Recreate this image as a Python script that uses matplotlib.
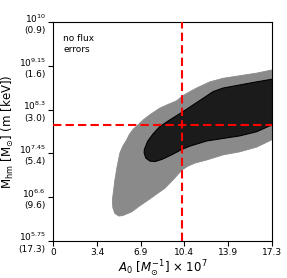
"""
Posterior contours for A_0 vs M_hm (no flux errors), with the true values
marked by red dashed lines.
"""

import numpy as np
import matplotlib
matplotlib.use("Agg")
import matplotlib.pyplot as plt

# ------------------------------------------------------------------
# axis ticks
X_TICKS = [0, 3.46, 6.92, 10.38, 13.84, 17.3]
X_TICKLABELS = ["0", "3.4", "6.9", "10.4", "13.9", "17.3"]
Y_TICKS = [5.75, 6.6, 7.45, 8.3, 9.15, 10.0]
Y_EXP = ["5.75", "6.6", "7.45", "8.3", "9.15", "10"]
Y_MASS = ["17.3", "9.6", "5.4", "3.0", "1.6", "0.9"]

# truth
A0_TRUE = 10.2
LOGM_TRUE = 8.0

# outer (95%) contour
OUTER_X = [18.33, 17.28, 16.09, 14.77, 13.44, 12.39, 11.34, 10.81, 10.25,
           9.75, 9.07, 8.43, 7.64, 7.11, 6.69, 6.32, 6.02, 5.80, 5.50,
           5.27, 5.03, 4.87, 4.67, 4.71, 4.87, 5.19, 5.50, 6.19, 6.85,
           7.51, 8.19, 8.83, 9.54, 10.20, 10.65, 11.20, 12.13, 13.44,
           14.77, 16.09, 17.28, 18.33]
OUTER_Y = [9.13, 9.07, 9.01, 8.96, 8.91, 8.84, 8.72, 8.65, 8.57,
           8.47, 8.40, 8.33, 8.20, 8.10, 8.00, 7.92, 7.82, 7.71, 7.59,
           7.46, 7.17, 6.93, 6.54, 6.39, 6.28, 6.23, 6.24, 6.31, 6.43,
           6.54, 6.66, 6.77, 6.95, 7.13, 7.20, 7.26, 7.32, 7.42,
           7.48, 7.57, 7.71, 7.83]

# inner (68%) contour
INNER_X = [18.33, 17.28, 16.09, 14.77, 13.44, 12.65, 11.86, 10.81, 10.20,
           9.22, 8.43, 7.90, 7.48, 7.21, 7.19, 7.32, 7.64, 8.04, 8.57,
           9.36, 10.20, 10.81, 12.13, 13.44, 14.77, 16.09, 17.28, 18.33]
INNER_Y = [8.93, 8.89, 8.84, 8.78, 8.72, 8.65, 8.52, 8.35, 8.25,
           8.10, 7.97, 7.83, 7.69, 7.53, 7.46, 7.36, 7.30, 7.29, 7.33,
           7.42, 7.53, 7.59, 7.69, 7.74, 7.79, 7.87, 8.00, 8.12]

# ------------------------------------------------------------------
fig = plt.figure(figsize=(2.87, 2.78), dpi=100)
ax = fig.add_axes([0.186, 0.134, 0.761, 0.786])

ax.fill(OUTER_X, OUTER_Y, facecolor="#8a8a8a", edgecolor="#8a8a8a",
        lw=0.6, joinstyle="round", zorder=1)
ax.fill(INNER_X, INNER_Y, facecolor="#1b1b1b", edgecolor="black",
        lw=0.8, joinstyle="round", zorder=2)

ax.axvline(A0_TRUE, color="red", ls="--", lw=1.5, dashes=(4, 2), zorder=3)
ax.axhline(LOGM_TRUE, color="red", ls="--", lw=1.5, dashes=(4, 2), zorder=3)

ax.set_xlim(0, 17.3)
ax.set_ylim(5.75, 10.0)
ax.set_xticks(X_TICKS)
ax.set_xticklabels(X_TICKLABELS)
ax.set_yticks(Y_TICKS)
ax.set_yticklabels([f"$10^{{{e}}}$\n({m})" for e, m in zip(Y_EXP, Y_MASS)])
ax.tick_params(labelsize=6.5, length=3.5, width=0.8, pad=2)

ax.set_xlabel(r"$A_0$ $[M_{\odot}^{-1}]$ $\times$ 10$^7$", fontsize=8.5,
              labelpad=1)
ax.set_ylabel(r"M$_{\rm hm}$ [M$_{\odot}$] (m [keV])", fontsize=8.5,
              labelpad=2)

ax.text(0.045, 0.945, "no flux\nerrors", transform=ax.transAxes,
        ha="left", va="top", fontsize=6.5)

fig.savefig("out.png", dpi=100)
